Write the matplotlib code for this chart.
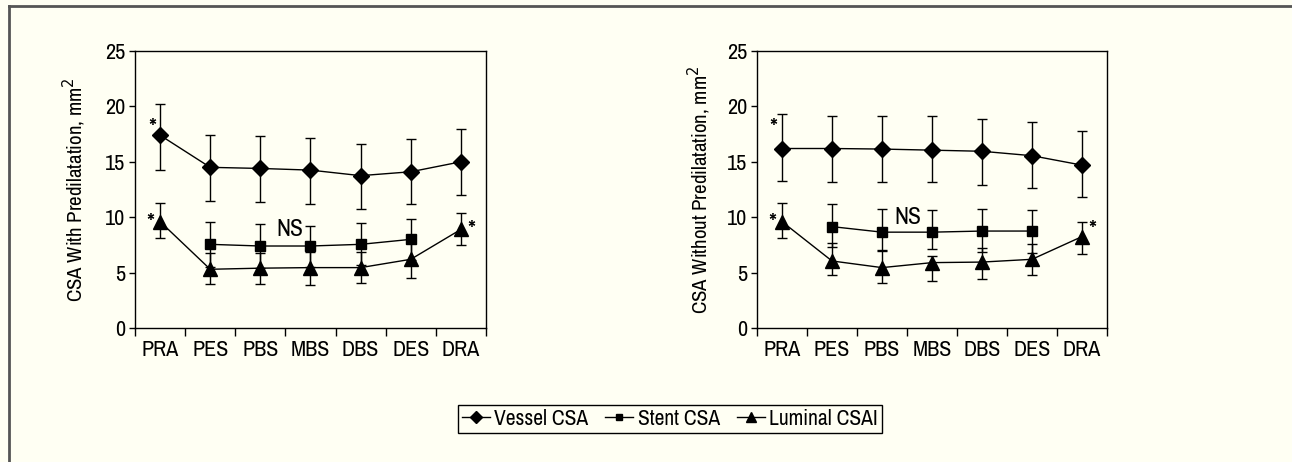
import numpy as np
import matplotlib.pyplot as plt
from matplotlib.lines import Line2D

plt.rcParams['font.family'] = ['Archivo Narrow', 'DejaVu Sans']

# Data
segments = ["PRA", "PES", "PBS", "MBS", "DBS", "DES", "DRA"]

# With predilatation (left panel)
vessel_pre = [17.4, 14.5, 14.4, 14.25, 13.75, 14.1, 15.0]
vessel_pre_lo = [14.3, 11.5, 11.4, 11.2, 10.7, 11.15, 12.0]
vessel_pre_hi = [20.2, 17.45, 17.35, 17.15, 16.6, 17.05, 17.95]

stent_pre = [7.55, 7.4, 7.4, 7.55, 8.0]
stent_pre_lo = [5.55, 5.4, 5.5, 5.65, 6.1]
stent_pre_hi = [9.6, 9.4, 9.25, 9.5, 9.85]

lumen_pre = [9.6, 5.3, 5.4, 5.45, 5.45, 6.2, 8.9]
lumen_pre_lo = [8.15, 3.95, 4.0, 3.9, 4.1, 4.5, 7.5]
lumen_pre_hi = [11.25, 6.8, 6.8, 6.9, 6.9, 7.9, 10.4]

# Without predilatation (right panel)
vessel_nopre = [16.2, 16.2, 16.15, 16.05, 15.95, 15.55, 14.7]
vessel_nopre_lo = [13.3, 13.2, 13.2, 13.15, 12.9, 12.65, 11.8]
vessel_nopre_hi = [19.3, 19.15, 19.15, 19.1, 18.85, 18.6, 17.75]

stent_nopre = [9.15, 8.65, 8.65, 8.75, 8.75]
stent_nopre_lo = [7.35, 7.0, 7.1, 6.9, 6.8]
stent_nopre_hi = [11.2, 10.7, 10.65, 10.75, 10.65]

lumen_nopre = [9.6, 6.05, 5.45, 5.9, 5.95, 6.2, 8.25]
lumen_nopre_lo = [8.15, 4.75, 4.1, 4.25, 4.4, 4.8, 6.7]
lumen_nopre_hi = [11.3, 7.7, 6.95, 6.5, 7.2, 7.55, 9.6]

bg = '#fffff3'
fig = plt.figure(figsize=(12.92, 4.62), dpi=100, facecolor=bg)

# outer frame (top and left edges visible)
fig.add_artist(Line2D([9 / 1292, 1], [1 - 6 / 462, 1 - 6 / 462], color='#555555', lw=2,
                      transform=fig.transFigure))
fig.add_artist(Line2D([9 / 1292, 9 / 1292], [0, 1 - 6 / 462], color='#555555', lw=2,
                      transform=fig.transFigure))


def draw_panel(ax, vessel, vlo, vhi, stent, slo, shi, lumen, llo, lhi, ylabel, labx):
    x = np.arange(len(segments))
    xs = x[1:6]
    kw = dict(color='black', lw=1, capsize=3.5, elinewidth=1, capthick=1, mec='black', mfc='black')
    ax.errorbar(x, vessel, yerr=[np.subtract(vessel, vlo), np.subtract(vhi, vessel)],
                marker='D', ms=8.5, **kw)
    ax.errorbar(xs, stent, yerr=[np.subtract(stent, slo), np.subtract(shi, stent)],
                marker='s', ms=7, **kw)
    ax.errorbar(x, lumen, yerr=[np.subtract(lumen, llo), np.subtract(lhi, lumen)],
                marker='^', ms=9.5, **kw)
    ax.set_facecolor(bg)
    ax.set_xlim(-0.5, 6.5)
    ax.set_ylim(0, 25)
    ax.set_yticks(range(0, 26, 5))
    ax.set_xticks(np.arange(-0.5, 7, 1))
    ax.set_xticklabels([])
    ax.set_xticks(x, minor=True)
    ax.set_xticklabels(segments, minor=True)
    ax.tick_params(axis='x', which='major', length=6, width=1, direction='out')
    ax.tick_params(axis='x', which='minor', length=0, pad=9, labelsize=16)
    ax.tick_params(axis='y', length=4, width=1, labelsize=16, pad=3)
    for s in ax.spines.values():
        s.set_linewidth(1)
    ax.set_ylabel(ylabel, fontsize=15)
    ax.yaxis.set_label_coords(labx, 0.5)


axL = fig.add_axes([135 / 1292, 134 / 462, 351 / 1292, 277 / 462])
draw_panel(axL, vessel_pre, vessel_pre_lo, vessel_pre_hi, stent_pre, stent_pre_lo, stent_pre_hi,
           lumen_pre, lumen_pre_lo, lumen_pre_hi, 'CSA With Predilatation, mm$^2$', -0.135)
axL.text(-0.16, 18.0, '*', fontsize=18, ha='center', va='center')
axL.text(-0.2, 9.4, '*', fontsize=18, ha='center', va='center')
axL.text(6.2, 8.8, '*', fontsize=18, ha='center', va='center')
axL.text(2.59, 8.85, 'NS', fontsize=17, ha='center', va='center')

axR = fig.add_axes([757 / 1292, 134 / 462, 350 / 1292, 277 / 462])
draw_panel(axR, vessel_nopre, vessel_nopre_lo, vessel_nopre_hi, stent_nopre, stent_nopre_lo,
           stent_nopre_hi, lumen_nopre, lumen_nopre_lo, lumen_nopre_hi,
           'CSA Without Predilatation, mm$^2$', -0.125)
axR.text(-0.18, 18.0, '*', fontsize=18, ha='center', va='center')
axR.text(-0.2, 9.4, '*', fontsize=18, ha='center', va='center')
axR.text(6.2, 8.8, '*', fontsize=18, ha='center', va='center')
axR.text(2.51, 10.0, 'NS', fontsize=17, ha='center', va='center')

handles = [
    Line2D([], [], color='black', lw=1, marker='D', ms=6, mfc='black'),
    Line2D([], [], color='black', lw=1, marker='s', ms=5, mfc='black'),
    Line2D([], [], color='black', lw=1, marker='^', ms=7, mfc='black'),
]
leg = fig.legend(handles, ['Vessel CSA', 'Stent CSA', 'Luminal CSAI'], ncol=3,
                 loc='center', bbox_to_anchor=(670 / 1292, 1 - 419 / 462), fontsize=15.5,
                 frameon=True, fancybox=False, handlelength=1.3, handletextpad=0.2,
                 columnspacing=0.8, borderpad=0.2, borderaxespad=0)
leg.get_frame().set_edgecolor('black')
leg.get_frame().set_linewidth(1)
leg.get_frame().set_facecolor(bg)
leg.get_frame().set_alpha(1)

plt.savefig('out.png', dpi=100, facecolor=bg)
